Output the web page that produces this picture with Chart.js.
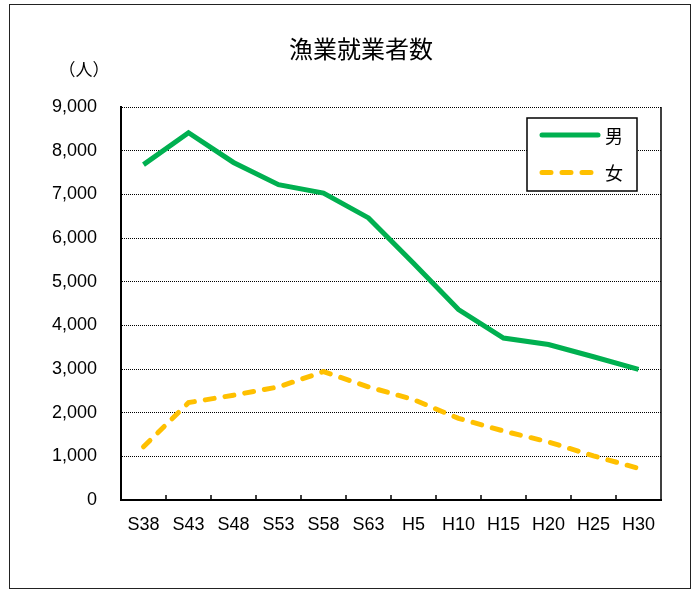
<!DOCTYPE html>
<html>
<head>
<meta charset="utf-8">
<script src="https://cdn.jsdelivr.net/npm/chart.js@4/dist/chart.umd.min.js"></script>
<style>
  body { margin: 0; background: #fff; }
  .wrap { position: relative; width: 698px; height: 590px; }
  .frame { position: absolute; left: 9px; top: 4px; width: 680px; height: 583px; border: 1px solid #222; pointer-events: none; }
</style>
</head>
<body>
<div class="wrap">
  <canvas id="myChart"></canvas>
  <div class="frame"></div>
</div>
<script>
const years = ["S38", "S43", "S48", "S53", "S58", "S63", "H5", "H10", "H15", "H20", "H25", "H30"];
const male = [7680, 8410, 7730, 7220, 7030, 6460, 5420, 4360, 3710, 3560, 3280, 2990];
const female = [1220, 2230, 2400, 2590, 2940, 2590, 2300, 1870, 1580, 1330, 1010, 725];

const titleText = "漁業就業者数";
const unitText = "（人）";

const numFont = "'Liberation Sans', Arial, sans-serif";
const cjkFont = "'Noto Sans CJK JP', sans-serif";

// title, unit label, right border, inward x ticks and the boxed legend
const extras = {
  id: "extras",
  afterDraw(chart) {
    const ctx = chart.ctx;
    const area = chart.chartArea;
    const x = chart.scales.x;
    ctx.save();
    ctx.fillStyle = "#000";
    ctx.textAlign = "center";
    ctx.textBaseline = "middle";
    ctx.font = "24px " + cjkFont;
    ctx.fillText(titleText, 361, 49);
    ctx.font = "17px " + cjkFont;
    ctx.fillText(unitText, 84, 70);

    ctx.strokeStyle = "#000";
    ctx.lineWidth = 1.5;
    ctx.beginPath();
    ctx.moveTo(area.right, area.top);
    ctx.lineTo(area.right, area.bottom);
    ctx.stroke();

    for (let i = 1; i < years.length; i++) {
      let px = (x.getPixelForValue(i - 1) + x.getPixelForValue(i)) / 2;
      ctx.beginPath();
      ctx.moveTo(px, area.bottom);
      ctx.lineTo(px, area.bottom - 5);
      ctx.stroke();
    }

    // legend
    const bx = 527, by = 118, bw = 110, bh = 73;
    ctx.fillStyle = "#fff";
    ctx.fillRect(bx, by, bw, bh);
    ctx.strokeRect(bx, by, bw, bh);
    chart.data.datasets.forEach((ds, i) => {
      let ly = by + 17 + i * 37.5;
      ctx.strokeStyle = ds.borderColor;
      ctx.lineWidth = ds.borderWidth;
      ctx.lineCap = "round";
      ctx.setLineDash(ds.borderDash || []);
      ctx.beginPath();
      ctx.moveTo(bx + 15, ly);
      ctx.lineTo(bx + 71, ly);
      ctx.stroke();
      ctx.setLineDash([]);
      ctx.fillStyle = "#000";
      ctx.font = "18px " + cjkFont;
      ctx.textAlign = "left";
      ctx.fillText(ds.label, bx + 78, ly + 1);
    });
    ctx.restore();
  }
};

const data = {
  labels: years,
  datasets: [{
    label: "男",
    data: male,
    borderColor: "#00B050",
    borderWidth: 5,
    pointRadius: 0,
    tension: 0,
    fill: false
  }, {
    label: "女",
    data: female,
    borderColor: "#FFC000",
    borderWidth: 5,
    borderDash: [9, 11],
    borderCapStyle: "round",
    pointRadius: 0,
    tension: 0,
    fill: false
  }]
};

const options = {
  responsive: true,
  maintainAspectRatio: false,
  animation: false,
  layout: {
    padding: { left: 0, right: 37, top: 107, bottom: 0 }
  },
  plugins: {
    legend: { display: false },
    tooltip: { enabled: false },
    title: { display: false }
  },
  scales: {
    x: {
      offset: true,
      grid: { display: false, drawTicks: false },
      border: { color: "#000", width: 2 },
      ticks: {
        color: "#000",
        padding: 14,
        maxRotation: 0,
        autoSkip: false,
        font: { family: numFont, size: 18 }
      },
      afterFit(scale) { scale.height = 90; }
    },
    y: {
      min: 0,
      max: 9000,
      grid: {
        color: "#000",
        lineWidth: 1,
        drawTicks: false
      },
      // in v4 border.dash dashes the grid lines, the axis line stays solid
      border: { color: "#000", width: 2, dash: [1, 1] },
      ticks: {
        stepSize: 1000,
        color: "#000",
        padding: 24,
        font: { family: numFont, size: 18 },
        callback: (v) => v.toLocaleString("en-US")
      },
      afterFit(scale) { scale.width = 121; }
    }
  }
};

new Chart(document.getElementById("myChart").getContext("2d"), {
  type: "line",
  data: data,
  options: options,
  plugins: [extras]
});
</script>
</body>
</html>
